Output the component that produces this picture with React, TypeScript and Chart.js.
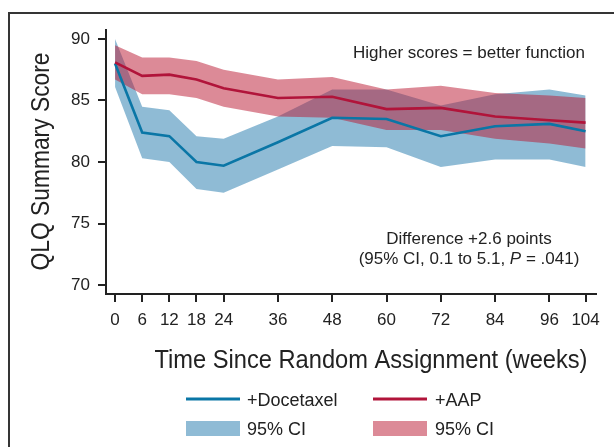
import React, { useEffect, useRef } from "react";
import { Chart, registerables } from "chart.js";

Chart.register(...registerables);

// ---- data ----
const weeks = [0, 6, 12, 18, 24, 36, 48, 60, 72, 84, 96, 104];
const docetaxelMean = [88.0, 82.4, 82.1, 80.0, 79.7, 81.6, 83.6, 83.5, 82.1, 82.9, 83.1, 82.5];
const docetaxelLower = [86.1, 80.3, 80.0, 77.8, 77.5, 79.4, 81.3, 81.2, 79.6, 80.2, 80.2, 79.6];
const docetaxelUpper = [90.0, 84.5, 84.2, 82.1, 81.9, 83.7, 85.9, 85.9, 84.6, 85.5, 85.9, 85.4];
const aapMean = [88.1, 87.0, 87.1, 86.7, 86.0, 85.2, 85.3, 84.3, 84.4, 83.7, 83.4, 83.2];
const aapLower = [86.7, 85.5, 85.5, 85.2, 84.5, 83.7, 83.6, 82.6, 82.6, 81.9, 81.5, 81.1];
const aapUpper = [89.5, 88.5, 88.5, 88.2, 87.5, 86.7, 86.9, 85.9, 86.2, 85.6, 85.4, 85.2];
const xTickValues = [0, 6, 12, 18, 24, 36, 48, 60, 72, 84, 96, 104];
const yTickValues = [70, 75, 80, 85, 90];

const xTitle = "Time Since Random Assignment (weeks)";
const yTitle = "QLQ Summary Score";
const noteTop = "Higher scores = better function";
const noteDiff = "Difference +2.6 points";
const noteCiParts = ["(95% CI, 0.1 to 5.1, ", "P", " = .041)"];
const legendLabels = ["+Docetaxel", "+AAP", "95% CI", "95% CI"];

const BLUE = "#0a76a6";
const RED = "#b1143a";
const BLUE_BAND = "rgba(35,121,172,0.51)";
const RED_BAND = "rgba(186,25,51,0.51)";
const TEXT = "#222";
const SANS = "'Liberation Sans', Arial, sans-serif";

const pts = (arr: number[]) => arr.map((y, i) => ({ x: weeks[i], y }));

// draw condensed text: fits the text into a given width by horizontal scaling
function condensedText(ctx: CanvasRenderingContext2D, text: string, width: number) {
  const w = ctx.measureText(text).width;
  const s = width / w;
  ctx.save();
  ctx.scale(s, 1);
  ctx.textAlign = "center";
  ctx.fillText(text, 0, 0);
  ctx.restore();
}

const decorPlugin = {
  id: "decor",
  afterDraw(chart: any) {
    const ctx = chart.ctx as CanvasRenderingContext2D;
    ctx.save();
    // frame
    ctx.strokeStyle = "#353535";
    ctx.lineWidth = 2;
    ctx.beginPath();
    ctx.moveTo(9, 447);
    ctx.lineTo(9, 13);
    ctx.lineTo(614, 13);
    ctx.stroke();

    ctx.fillStyle = TEXT;
    ctx.textBaseline = "alphabetic";

    // notes
    ctx.textAlign = "center";
    ctx.font = `17px ${SANS}`;
    ctx.fillText(noteTop, 469, 58);
    ctx.fillText(noteDiff, 469, 244);
    const fonts = [`17px ${SANS}`, `italic 17px ${SANS}`, `17px ${SANS}`];
    let total = 0;
    const widths = noteCiParts.map((t, i) => {
      ctx.font = fonts[i];
      const w = ctx.measureText(t).width;
      total += w;
      return w;
    });
    ctx.textAlign = "left";
    let x = 469 - total / 2;
    noteCiParts.forEach((t, i) => {
      ctx.font = fonts[i];
      ctx.fillText(t, x, 264);
      x += widths[i];
    });

    // axis titles
    ctx.font = `26px ${SANS}`;
    ctx.save();
    ctx.translate(371, 368);
    condensedText(ctx, xTitle, 433);
    ctx.restore();
    ctx.save();
    ctx.translate(48.5, 161.5);
    ctx.rotate(-Math.PI / 2);
    condensedText(ctx, yTitle, 218);
    ctx.restore();

    // legend
    ctx.textAlign = "left";
    ctx.font = `18px ${SANS}`;
    ctx.lineWidth = 3;
    ctx.strokeStyle = BLUE;
    ctx.beginPath();
    ctx.moveTo(186, 399);
    ctx.lineTo(240, 399);
    ctx.stroke();
    ctx.strokeStyle = RED;
    ctx.beginPath();
    ctx.moveTo(373, 399);
    ctx.lineTo(427, 399);
    ctx.stroke();
    ctx.fillStyle = BLUE_BAND;
    ctx.fillRect(186, 421, 54, 15);
    ctx.fillStyle = RED_BAND;
    ctx.fillRect(373, 421, 54, 15);
    ctx.fillStyle = TEXT;
    ctx.fillText(legendLabels[0], 247, 406);
    ctx.fillText(legendLabels[1], 435, 406);
    ctx.fillText(legendLabels[2], 247, 435);
    ctx.fillText(legendLabels[3], 435, 435);
    ctx.restore();
  },
};

export default function App() {
  const ref = useRef<HTMLCanvasElement | null>(null);
  useEffect(() => {
    if (!ref.current) return;
    const band = (data: number[], color: string | null) => ({
      data: pts(data),
      borderWidth: 0,
      pointRadius: 0,
      backgroundColor: color || "transparent",
      fill: color ? "-1" : false,
    });
    const chart = new Chart(ref.current, {
      type: "line",
      data: {
        datasets: [
          band(aapLower, null) as any,
          band(aapUpper, RED_BAND) as any,
          band(docetaxelLower, null) as any,
          band(docetaxelUpper, BLUE_BAND) as any,
          {
            data: pts(aapMean),
            borderColor: RED,
            borderWidth: 2.6,
            pointRadius: 0,
            fill: false,
            tension: 0,
          },
          {
            data: pts(docetaxelMean),
            borderColor: BLUE,
            borderWidth: 2.6,
            pointRadius: 0,
            fill: false,
            tension: 0,
          },
        ],
      },
      options: {
        animation: false,
        responsive: false,
        devicePixelRatio: 1,
        layout: { padding: { left: 0, top: 30, right: 18, bottom: 0 } },
        plugins: {
          legend: { display: false },
          tooltip: { enabled: false },
          filler: { drawTime: "beforeDatasetsDraw" } as any,
        },
        scales: {
          x: {
            type: "linear",
            min: -2,
            max: 106.3,
            afterBuildTicks: (s: any) => {
              s.ticks = xTickValues.map((v) => ({ value: v }));
            },
            afterFit: (s: any) => {
              s.height = 153;
            },
            ticks: {
              autoSkip: false,
              maxRotation: 0,
              padding: 8,
              color: TEXT,
              font: { family: SANS, size: 17 },
            },
            grid: {
              drawOnChartArea: false,
              drawTicks: true,
              tickLength: 8,
              color: "#222",
              lineWidth: 2,
            },
            border: { display: true, color: "#222", width: 2 },
          },
          y: {
            type: "linear",
            min: 69.27,
            max: 90.73,
            afterBuildTicks: (s: any) => {
              s.ticks = yTickValues.map((v) => ({ value: v }));
            },
            afterFit: (s: any) => {
              s.width = 106;
            },
            ticks: {
              padding: 8,
              color: TEXT,
              font: { family: SANS, size: 17 },
            },
            grid: {
              drawOnChartArea: false,
              drawTicks: true,
              tickLength: 8,
              color: "#222",
              lineWidth: 2,
            },
            border: { display: true, color: "#222", width: 2 },
          },
        },
      },
      plugins: [decorPlugin],
    });
    return () => chart.destroy();
  }, []);
  return (
    <div style={{ position: "fixed", left: 0, top: 0, width: 614, height: 447, background: "#fff" }}>
      <canvas ref={ref} width={614} height={447} style={{ width: 614, height: 447, display: "block" }} />
    </div>
  );
}
